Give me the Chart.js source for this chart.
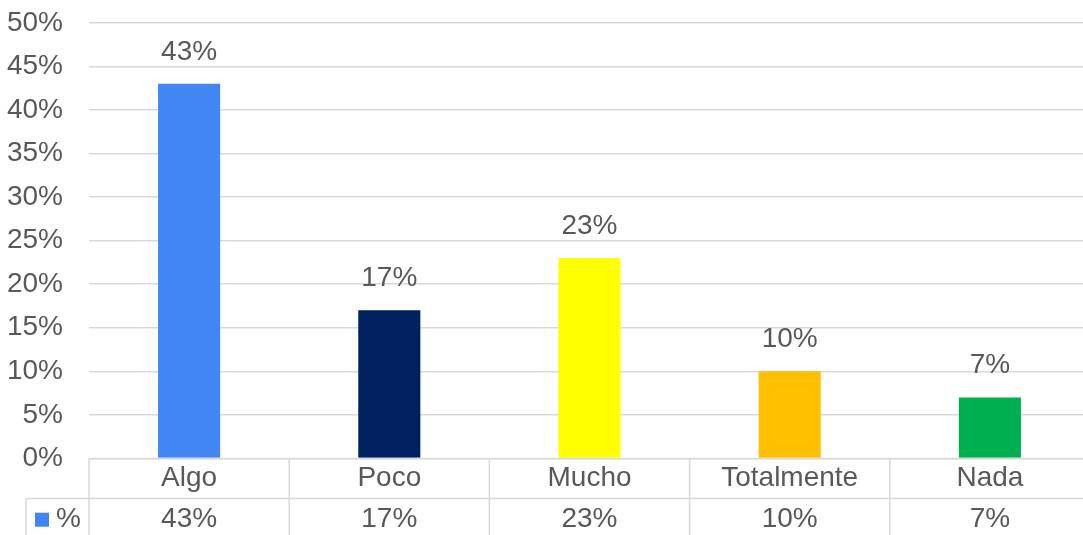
<!DOCTYPE html>
<html>
<head>
<meta charset="utf-8">
<style>
  html, body { margin: 0; padding: 0; background: #fff; overflow: hidden; }
  #wrap { position: absolute; left: 0; top: -20px; width: 1090px; height: 555px; }
</style>
<script src="https://cdn.jsdelivr.net/npm/chart.js@4.4.1/dist/chart.umd.min.js"></script>
</head>
<body>
<div id="wrap"><canvas id="grafico"></canvas></div>
<script>
// Datos del gráfico
const categorias = ["Algo", "Poco", "Mucho", "Totalmente", "Nada"];
const porcentajes = [43, 17, 23, 10, 7];
const colores = ["#4285F4", "#002060", "#FFFF00", "#FFC000", "#00B050"];
const serie = "%";
const marcasY = [0, 5, 10, 15, 20, 25, 30, 35, 40, 45, 50];

const gris = "#595959";
const lineaGris = "#d9d9d9";
const fuente = "Liberation Sans, Arial, sans-serif";
const tam = 28;

// Etiquetas encima de cada barra
const etiquetasBarras = {
    id: "etiquetasBarras",
    afterDatasetsDraw(chart) {
        const ctx = chart.ctx;
        const meta = chart.getDatasetMeta(0);
        ctx.save();
        ctx.fillStyle = gris;
        ctx.font = tam + "px " + fuente;
        ctx.textAlign = "center";
        ctx.textBaseline = "middle";
        meta.data.forEach((bar, i) => {
            ctx.fillText(porcentajes[i] + "%", bar.x, bar.y - 32);
        });
        ctx.restore();
    }
};

// Tabla de datos debajo del eje
const tablaDatos = {
    id: "tablaDatos",
    afterDraw(chart) {
        const ctx = chart.ctx;
        const x = chart.scales.x;
        const area = chart.chartArea;
        const ancho = x.getPixelForValue(1) - x.getPixelForValue(0);
        const yTop = area.bottom;
        const yFila = yTop + 40;
        const yFin = chart.height;
        ctx.save();
        ctx.strokeStyle = lineaGris;
        ctx.lineWidth = 1.5;
        ctx.beginPath();
        ctx.moveTo(area.left, yTop); ctx.lineTo(area.right, yTop);
        ctx.moveTo(26, yFila); ctx.lineTo(area.right, yFila);
        ctx.moveTo(26, yFila); ctx.lineTo(26, yFin);
        for (let i = 0; i < categorias.length; i++) {
            const bx = x.getPixelForValue(i) - ancho / 2;
            ctx.moveTo(bx, yTop); ctx.lineTo(bx, yFin);
        }
        ctx.stroke();

        // fila de valores
        ctx.fillStyle = gris;
        ctx.font = tam + "px " + fuente;
        ctx.textAlign = "center";
        ctx.textBaseline = "middle";
        const yTexto = (yFila + yFin) / 2 + 3;
        porcentajes.forEach((v, i) => {
            ctx.fillText(v + "%", x.getPixelForValue(i), yTexto);
        });

        // clave de leyenda
        ctx.fillStyle = colores[0];
        ctx.fillRect(35, yTexto - 7, 14, 14);
        ctx.fillStyle = gris;
        ctx.textAlign = "left";
        ctx.fillText(serie, 56, yTexto);
        ctx.restore();
    }
};

new Chart(document.getElementById("grafico").getContext("2d"), {
    type: "bar",
    data: {
        labels: categorias,
        datasets: [{
            label: serie,
            data: porcentajes,
            backgroundColor: colores,
            barPercentage: 0.31,
            categoryPercentage: 1.0
        }]
    },
    options: {
        responsive: true,
        maintainAspectRatio: false,
        animation: false,
        layout: { padding: { top: 0, bottom: 37, left: 0, right: 0 } },
        plugins: {
            legend: { display: false },
            tooltip: { enabled: false }
        },
        scales: {
            x: {
                grid: { display: false, drawTicks: false },
                border: { display: false },
                ticks: {
                    color: gris,
                    font: { family: fuente, size: tam },
                    padding: 3,
                    maxRotation: 0
                }
            },
            y: {
                min: 0,
                max: 50,
                afterFit(scale) { scale.width = 89; },
                afterBuildTicks(scale) {
                    scale.ticks = marcasY.map(v => ({ value: v }));
                },
                grid: { color: lineaGris, lineWidth: 1.5, drawTicks: false },
                border: { display: false },
                ticks: {
                    color: gris,
                    font: { family: fuente, size: tam },
                    padding: 26,
                    callback: v => v + "%"
                }
            }
        }
    },
    plugins: [etiquetasBarras, tablaDatos]
});
</script>
</body>
</html>
